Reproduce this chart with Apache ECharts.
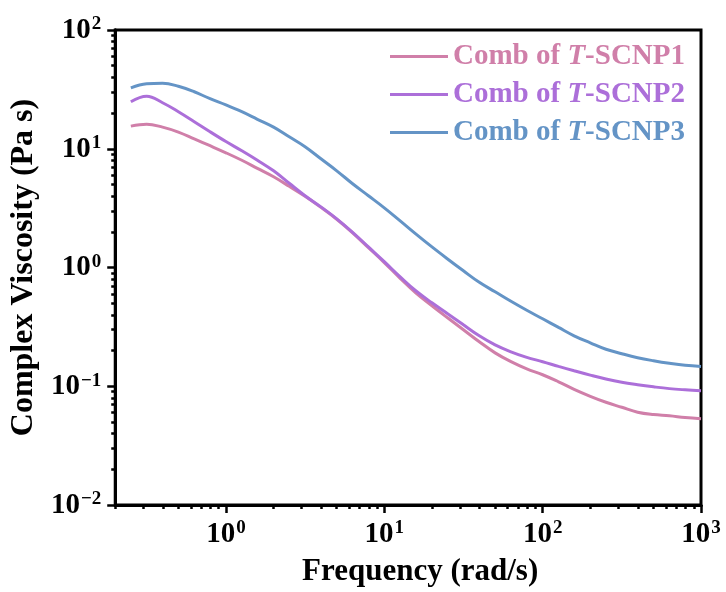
<!DOCTYPE html>
<html>
<head>
<meta charset="utf-8">
<script src="https://cdn.jsdelivr.net/npm/echarts@6/dist/echarts.min.js"></script>
<style>
  html, body { margin: 0; padding: 0; background: #fff; }
  #chart { width: 726px; height: 592px; }
</style>
</head>
<body>
<div id="chart"></div>
<script>
// Angular frequency (rad/s), 10 points per decade
const frequency = [0.251, 0.316, 0.398, 0.501, 0.631, 0.794,
  1, 1.26, 1.58, 2.00, 2.51, 3.16, 3.98, 5.01, 6.31, 7.94,
  10, 12.6, 15.8, 20.0, 25.1, 31.6, 39.8, 50.1, 63.1, 79.4,
  100, 126, 158, 200, 251, 316, 398, 501, 631, 794, 1000];

// Complex viscosity (Pa s)
const comb1 = [15.5, 16.1, 15.2, 13.8, 12.1, 10.6,
  9.25, 8.00, 6.84, 5.81, 4.83, 3.98, 3.21, 2.55, 1.96, 1.47,
  1.10, 0.811, 0.612, 0.476, 0.377, 0.299, 0.237, 0.191, 0.161, 0.140,
  0.125, 0.109, 0.0942, 0.0823, 0.0733, 0.0665, 0.0604, 0.0577, 0.0564, 0.0545, 0.0532];
const comb2 = [24.9, 27.7, 24.4, 20.5, 16.9, 13.9,
  11.5, 9.61, 8.00, 6.52, 5.12, 4.02, 3.24, 2.57, 1.98, 1.49,
  1.12, 0.835, 0.637, 0.504, 0.408, 0.329, 0.266, 0.223, 0.195, 0.175,
  0.161, 0.147, 0.135, 0.124, 0.115, 0.108, 0.103, 0.0989, 0.0955, 0.0933, 0.0916];
const comb3 = [32.6, 35.2, 35.6, 33.6, 30.2, 26.4,
  23.4, 20.5, 17.7, 15.2, 12.6, 10.4, 8.23, 6.52, 5.07, 4.02,
  3.18, 2.47, 1.92, 1.49, 1.18, 0.938, 0.750, 0.624, 0.519, 0.436,
  0.370, 0.313, 0.266, 0.232, 0.205, 0.188, 0.174, 0.164, 0.156, 0.150, 0.147];

const seriesNames = ['Comb of T-SCNP1', 'Comb of T-SCNP2', 'Comb of T-SCNP3'];
const seriesColors = ['#d07fa9', '#ac6fd9', '#6494c6'];

// Decade ticks (labelled) and the minor ticks in between
const xMajorTicks = [1, 10, 100, 1000];
const xMinorTicks = [0.2, 0.3, 0.4, 0.5, 0.6, 0.7, 0.8, 0.9, 2, 3, 4, 5, 6, 7, 8, 9, 20, 30, 40, 50, 60, 70, 80, 90, 200, 300, 400, 500, 600, 700, 800, 900];
const yMajorTicks = [0.01, 0.1, 1, 10, 100];
const yMinorTicks = [0.02, 0.03, 0.04, 0.05, 0.06, 0.07, 0.08, 0.09, 0.2, 0.3, 0.4, 0.5, 0.6, 0.7, 0.8, 0.9, 2, 3, 4, 5, 6, 7, 8, 9, 20, 30, 40, 50, 60, 70, 80, 90];

const FONT = '"Liberation Serif", "Times New Roman", serif';

function powerLabel(v) {
  const l = Math.log10(v);
  const e = Math.round(l);
  if (Math.abs(l - e) > 1e-6) return '';
  return '{b|10}{s|' + (e < 0 ? '\u2212' + (-e) : e) + '}';
}
const powerRich = {
  b: { fontFamily: FONT, fontWeight: 'bold', fontSize: 29, color: '#000', lineHeight: 30, verticalAlign: 'bottom' },
  s: { fontFamily: FONT, fontWeight: 'bold', fontSize: 19, color: '#000', lineHeight: 30, verticalAlign: 'top', padding: [0, 0, 12, 1] }
};

function pairs(ys) { return frequency.map((f, i) => [f, ys[i]]); }

const chart = echarts.init(document.getElementById('chart'), null, { renderer: 'canvas' });

const axisLineStyle = { color: '#000', width: 3 };
const tickLine = { color: '#000', width: 2.5 };

// Overlaid log axis that only carries the short minor ticks
function minorAxis(min, max, position, ticks) {
  return {
    type: 'log', logBase: 10, min: min, max: max, position: position, gridIndex: 0,
    axisLine: { show: true, onZero: false, lineStyle: { color: '#000', width: 3 } },
    axisTick: { show: true, inside: false, length: 4, lineStyle: tickLine, customValues: ticks },
    axisLabel: { show: false },
    splitLine: { show: false }
  };
}

chart.setOption({
  animation: false,
  backgroundColor: '#fff',
  grid: { left: 113, right: 25, top: 30, bottom: 87, show: true, borderColor: '#000', borderWidth: 3, backgroundColor: 'transparent' },
  legend: {
    orient: 'vertical',
    left: 385,
    top: 37,
    itemGap: 9,
    itemWidth: 58,
    itemHeight: 3,
    icon: 'rect',
    formatter: name => name.replace('T-', '{i|T}-'),
    data: seriesNames.map((n, k) => ({
      name: n,
      textStyle: {
        color: seriesColors[k], fontFamily: FONT, fontWeight: 'bold', fontSize: 29, lineHeight: 29,
        rich: { i: { color: seriesColors[k], fontFamily: FONT, fontWeight: 'bold', fontStyle: 'italic', fontSize: 29, lineHeight: 29 } }
      }
    }))
  },
  xAxis: [
    {
      type: 'log', logBase: 10, min: 0.2, max: 1000, position: 'bottom',
      name: 'Frequency (rad/s)', nameLocation: 'middle', nameGap: 51,
      nameTextStyle: { fontFamily: FONT, fontWeight: 'bold', fontSize: 31, color: '#000', padding: [0, 0, 0, 24] },
      axisLine: { show: true, onZero: false, lineStyle: axisLineStyle },
      axisTick: { show: true, inside: false, length: 8, lineStyle: tickLine, customValues: xMajorTicks },
      axisLabel: { margin: 14, formatter: powerLabel, rich: powerRich },
      splitLine: { show: false }
    },
    minorAxis(0.2, 1000, 'bottom', xMinorTicks)
  ],
  yAxis: [
    {
      type: 'log', logBase: 10, min: 0.01, max: 100, position: 'left',
      name: 'Complex Viscosity (Pa s)', nameLocation: 'middle', nameGap: 67, nameRotate: 90,
      nameTextStyle: { fontFamily: FONT, fontWeight: 'bold', fontSize: 32, color: '#000' },
      axisLine: { show: true, onZero: false, lineStyle: axisLineStyle },
      axisTick: { show: true, inside: false, length: 8, lineStyle: tickLine, customValues: yMajorTicks },
      axisLabel: { margin: 14, customValues: yMajorTicks, formatter: powerLabel, rich: powerRich },
      splitLine: { show: false }
    },
    minorAxis(0.01, 100, 'left', yMinorTicks)
  ],
  series: [comb1, comb2, comb3].map((ys, k) => ({
    name: seriesNames[k],
    type: 'line',
    xAxisIndex: 0,
    yAxisIndex: 0,
    data: pairs(ys),
    smooth: 0.4,
    symbol: 'none',
    lineStyle: { color: seriesColors[k], width: 3 },
    itemStyle: { color: seriesColors[k] }
  }))
});
</script>
</body>
</html>
